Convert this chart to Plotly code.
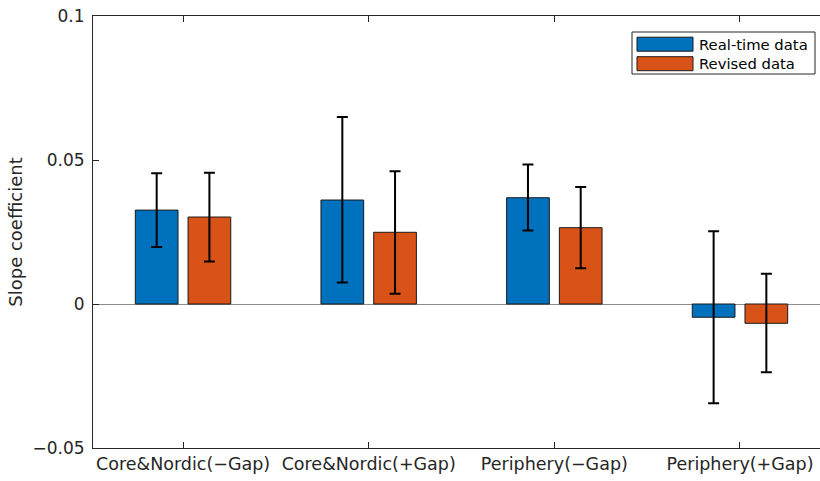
import plotly.graph_objects as go

categories = ["Core&Nordic(\u2212Gap)", "Core&Nordic(+Gap)", "Periphery(\u2212Gap)", "Periphery(+Gap)"]
realtime = [0.0326, 0.0361, 0.0369, -0.0046]
realtime_err_plus = [0.0128, 0.0288, 0.0115, 0.0299]
realtime_err_minus = [0.0128, 0.0286, 0.0114, 0.0299]
revised = [0.0302, 0.0249, 0.0265, -0.0067]
revised_err_plus = [0.0154, 0.0212, 0.0141, 0.0172]
revised_err_minus = [0.0154, 0.0213, 0.0141, 0.0170]
ytick_vals = [-0.05, 0, 0.05, 0.1]
ytick_text = ["\u22120.05", "0", "0.05", "0.1"]
series_names = ["Real-time data", "Revised data"]
colors = ["#0072BD", "#D95319"]

FONT = "DejaVu Sans"
xpos = [1, 2, 3, 4]

fig = go.Figure()
for name, vals, ep, em, col in [
    (series_names[0], realtime, realtime_err_plus, realtime_err_minus, colors[0]),
    (series_names[1], revised, revised_err_plus, revised_err_minus, colors[1]),
]:
    fig.add_trace(go.Bar(
        x=xpos, y=vals, name=name,
        marker=dict(color=col, line=dict(color="#1a1a1a", width=1)),
        error_y=dict(type="data", symmetric=False, array=ep, arrayminus=em,
                     color="black", thickness=2, width=5.5),
        showlegend=False,
    ))

fig.update_layout(
    width=820, height=481,
    margin=dict(l=93, r=0, t=16, b=33),
    paper_bgcolor="white", plot_bgcolor="white",
    barmode="group", bargap=0.432, bargroupgap=0.19,
    font=dict(family=FONT, size=16, color="#262626"),
)
fig.update_xaxes(
    range=[0.515, 4.431], tickvals=xpos, ticktext=categories,
    showline=True, linecolor="#262626", linewidth=1, mirror="ticks",
    ticks="inside", ticklen=6, tickcolor="#262626",
    showgrid=False, zeroline=False,
    tickfont=dict(family=FONT, size=17.5, color="#262626"),
)
fig.update_yaxes(
    range=[-0.05, 0.1], tickvals=ytick_vals, ticktext=ytick_text,
    showline=True, linecolor="#262626", linewidth=1, mirror=False,
    ticks="inside", ticklen=6, tickcolor="#262626", ticklabelstandoff=4,
    showgrid=False, zeroline=True, zerolinecolor="#8c8c8c", zerolinewidth=1,
    tickfont=dict(family=FONT, size=17, color="#262626"),
    title=dict(text="Slope coefficient", font=dict(family=FONT, size=18, color="#262626"), standoff=5),
)

# Legend drawn manually (MATLAB style wide swatches)
def px_x(p):
    return (p - 93) / (820 - 93)

def px_y(p):
    return 1 - (p - 16) / (448 - 16)

shapes = [dict(type="rect", xref="paper", yref="paper",
               x0=px_x(632), x1=px_x(815), y0=px_y(74), y1=px_y(32),
               line=dict(color="#262626", width=1), fillcolor="white")]
annotations = []
for i, (name, col) in enumerate(zip(series_names, colors)):
    yc = 44.2 + i * 19.5
    shapes.append(dict(type="rect", xref="paper", yref="paper",
                       x0=px_x(637), x1=px_x(693), y0=px_y(yc + 7), y1=px_y(yc - 7),
                       line=dict(color="#1a1a1a", width=1), fillcolor=col))
    annotations.append(dict(xref="paper", yref="paper", x=px_x(697), y=px_y(yc),
                            text=name, showarrow=False, xanchor="left", yanchor="middle",
                            font=dict(family=FONT, size=14.8, color="black")))
fig.update_layout(shapes=shapes, annotations=annotations)

fig.write_html("out.html")
